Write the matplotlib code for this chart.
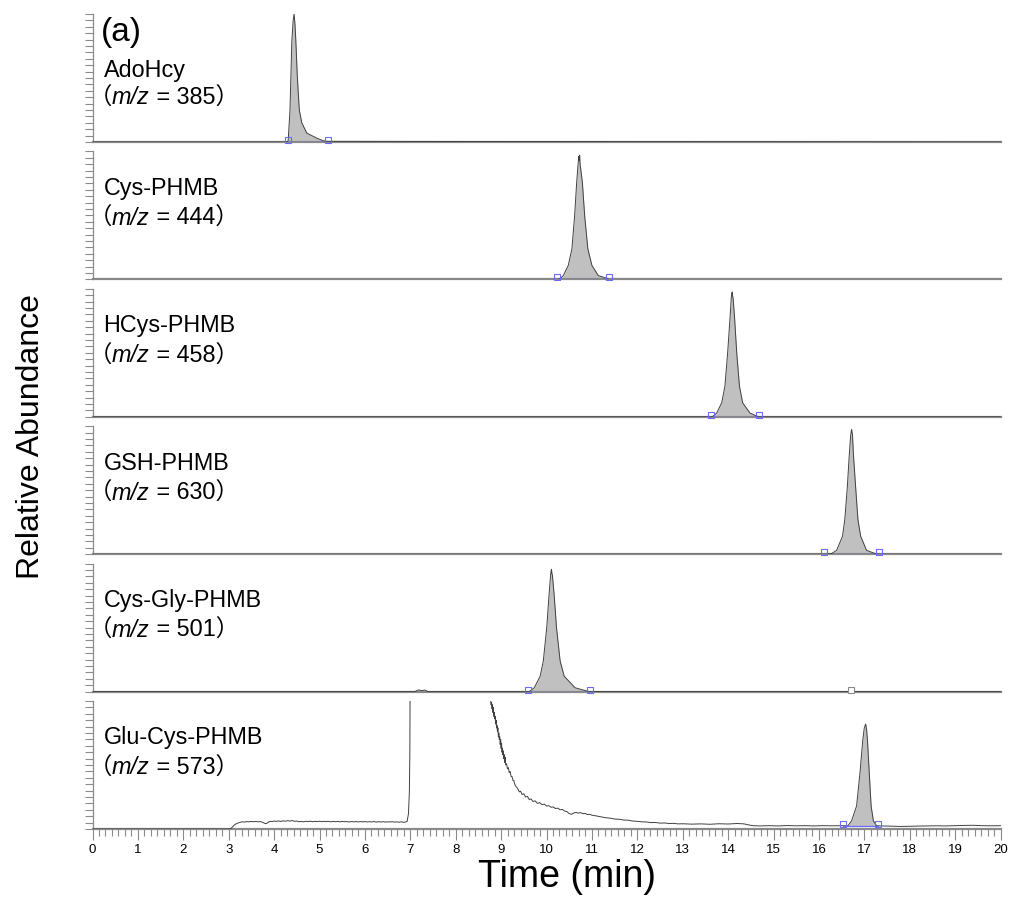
import matplotlib
matplotlib.use("Agg")
import matplotlib.pyplot as plt
from matplotlib.offsetbox import TextArea, HPacker, AnchoredOffsetbox
import numpy as np

# ---------------- data ----------------
names = ["AdoHcy", "Cys-PHMB", "HCys-PHMB", "GSH-PHMB", "Cys-Gly-PHMB", "Glu-Cys-PHMB"]
mz_values = ["385", "444", "458", "630", "501", "573"]

# panel 1 AdoHcy
t1 = [0, 4.28, 4.31, 4.35, 4.39, 4.42, 4.44, 4.46, 4.48, 4.51, 4.555, 4.61, 4.72, 4.94, 5.08, 5.17, 20]
y1 = [0, 0, 1, 25, 78, 95, 100, 92, 78, 52, 25, 15, 7, 3, 1, 0.5, 0]
# panel 2 Cys-PHMB
t2 = [0, 10.24, 10.30, 10.37, 10.48, 10.56, 10.62, 10.665, 10.70, 10.71, 10.72, 10.73, 10.74, 10.79, 10.84, 10.91, 11.00, 11.14, 11.355, 11.38, 20]
y2 = [0, 0, 0.5, 3, 11, 24, 50, 76, 92, 96, 93, 97, 90, 76, 50, 24, 11, 3, 0.5, 0, 0]
# panel 3 HCys-PHMB
t3 = [0, 13.62, 13.67, 13.75, 13.86, 13.93, 13.99, 14.04, 14.07, 14.08, 14.09, 14.10, 14.11, 14.145, 14.19, 14.25, 14.32, 14.48, 14.63, 14.69, 20]
y3 = [0, 0, 0.5, 3, 11, 24, 50, 76, 93, 96, 97.5, 94, 93, 76, 50, 24, 11, 3, 0.5, 0, 0]
# panel 4 GSH-PHMB
t4 = [0, 16.11, 16.28, 16.39, 16.52, 16.57, 16.625, 16.67, 16.70, 16.72, 16.74, 16.76, 16.81, 16.86, 16.92, 17.05, 17.24, 17.32, 20]
y4 = [0, 0, 0.5, 3, 14, 27, 52, 78, 93, 97.5, 93, 78, 52, 27, 14, 3, 0.5, 0, 0]
# panel 5 Cys-Gly-PHMB
t5 = [0, 7.10, 7.18, 7.25, 7.32, 7.39, 9.60, 9.64, 9.73, 9.86, 9.93, 10.005, 10.055, 10.09, 10.10, 10.11, 10.12, 10.13, 10.17, 10.22, 10.30, 10.39, 10.63, 10.885, 10.96, 20]
y5 = [0, 0, 1.3, 0.8, 1.2, 0, 0, 0.5, 3, 12, 24, 50, 75, 91, 94, 95.5, 92, 91, 75, 50, 24, 12, 3, 0.5, 0, 0]
# panel 6 Glu-Cys-PHMB
t6 = [0, 3.02, 3.05, 3.08, 3.12, 3.16, 3.2, 3.25, 3.3, 3.35, 3.4, 3.45, 3.5, 3.55, 3.6, 3.65, 3.7, 3.75, 3.8, 3.84, 3.88, 3.92, 3.96,
      4.0, 4.05, 4.1, 4.15, 4.2, 4.25, 4.3, 4.35, 4.4, 4.45, 4.5, 4.55, 4.6, 4.65, 4.7, 4.75, 4.8, 4.85, 4.9, 4.95,
      5.0, 5.05, 5.1, 5.15, 5.2, 5.25, 5.3, 5.35, 5.4, 5.45, 5.5, 5.55, 5.6, 5.65, 5.7, 5.75, 5.8, 5.85, 5.9, 5.95,
      6.0, 6.05, 6.1, 6.15, 6.2, 6.25, 6.3, 6.35, 6.4, 6.45, 6.5, 6.55, 6.6, 6.65, 6.7, 6.75, 6.8, 6.85, 6.9, 6.93,
      6.96, 6.98, 6.99, 7.0, 8.76,
      8.77, 8.78, 8.79, 8.80, 8.81, 8.82, 8.83, 8.84, 8.85, 8.86, 8.87, 8.88, 8.89, 8.90, 8.91, 8.92, 8.93, 8.94,
      8.95, 8.96, 8.97, 8.98, 8.99, 9.00, 9.01, 9.02, 9.03, 9.04, 9.05, 9.06, 9.07, 9.08, 9.09, 9.10,
      9.12, 9.14, 9.16, 9.18, 9.20, 9.22, 9.24, 9.26, 9.28, 9.30, 9.33, 9.36, 9.40, 9.43, 9.46, 9.50, 9.54, 9.58,
      9.62, 9.66, 9.70, 9.75, 9.80, 9.85, 9.90, 9.95, 10.0, 10.05, 10.1, 10.15, 10.2, 10.25, 10.3, 10.35, 10.4,
      10.45, 10.5, 10.55, 10.6, 10.65, 10.7, 10.75, 10.8, 10.85, 10.9, 10.95, 11.0, 11.1, 11.2, 11.3, 11.4, 11.5,
      11.6, 11.7, 11.8, 11.9, 12.0, 12.1, 12.2, 12.3, 12.4, 12.5, 12.6, 12.7, 12.8, 12.9, 13.0, 13.2, 13.4, 13.6,
      13.8, 14.0, 14.2, 14.35, 14.45, 14.55, 14.7, 14.9, 15.1, 15.3, 15.5, 15.7, 15.9, 16.1, 16.3, 16.5,
      16.64, 16.72, 16.83, 16.905, 16.965, 17.0, 17.02, 17.03, 17.05, 17.07, 17.11, 17.15, 17.2, 17.27,
      17.4, 17.6, 17.8, 18.0, 18.2, 18.4, 18.6, 18.8, 19.0, 19.2, 19.4, 19.6, 19.8, 20.0]
y6 = [0, 0, 0.4, 1.5, 3.0, 4.0, 4.6, 5.2, 5.6, 5.4, 5.8, 5.6, 5.9, 5.7, 5.9, 5.6, 5.8, 5.2, 4.3, 4.4, 5.6, 6.0, 5.8,
      6.2, 6.0, 6.3, 5.9, 6.4, 6.1, 6.5, 6.2, 6.6, 6.0, 6.2, 5.7, 5.9, 5.6, 6.0, 5.8, 6.1, 5.7, 6.0, 5.8,
      6.1, 5.7, 6.0, 5.8, 6.0, 5.6, 5.9, 5.7, 5.9, 5.6, 5.9, 5.7, 5.8, 5.5, 5.8, 5.6, 5.8, 5.5, 5.8, 5.6,
      5.8, 5.5, 5.7, 5.5, 5.8, 5.4, 5.7, 5.5, 5.7, 5.4, 5.6, 5.5, 5.7, 5.4, 5.6, 5.3, 5.6, 5.2, 5.5, 6.0,
      12, 30, 60, 150, 150,
      100, 97, 99, 94, 97, 91, 95, 88, 91, 86, 88, 82, 85, 79, 81, 76, 79, 72,
      75, 70, 72, 66, 70, 63, 67, 60, 63, 58, 61, 55, 58, 52, 56, 50,
      51, 47, 48, 44, 45, 41, 41, 38, 38, 35, 33, 32, 29, 29.5, 27, 27.5, 25, 25.5,
      23, 23.5, 21.5, 22, 20, 20.6, 19, 19.5, 18, 18.2, 17, 17.2, 16, 16.3, 15, 15.3, 14,
      13.6, 12, 11.5, 12.5, 13, 12.4, 12.8, 12.0, 12.2, 11.3, 11.5, 10.8, 10.2, 9.5, 8.8, 8.5, 7.8,
      7.6, 7.0, 6.9, 6.2, 6.0, 5.6, 5.5, 5.0, 5.1, 4.6, 4.7, 4.3, 4.4, 4.0, 4.1, 3.8, 4.0, 3.7,
      4.1, 3.9, 4.3, 4.0, 3.2, 2.6, 2.4, 2.6, 2.4, 2.7, 2.5, 2.6, 2.4, 2.6, 2.5, 2.6,
      2.5, 6.4, 18, 44, 69, 79, 81, 82, 78, 69, 44, 18, 6.4, 2.5,
      2.4, 2.2, 2.0, 2.1, 2.3, 2.4, 2.5, 2.4, 2.6, 2.8, 2.9, 2.6, 2.5, 2.6]

traces_t = [t1, t2, t3, t4, t5, t6]
traces_y = [y1, y2, y3, y4, y5, y6]
# integration limits (left, right) and baseline level
int_left = [4.31, 10.24, 13.62, 16.11, 9.60, 16.54]
int_right = [5.18, 11.38, 14.69, 17.32, 10.96, 17.30]
int_base = [0, 0, 0, 0, 0, 2.5]

x_ticks = list(range(0, 21))

# ---------------- style ----------------
plt.rcParams['font.family'] = ['Liberation Sans', 'Noto Sans CJK SC', 'DejaVu Sans']
W, H = 1009, 912
fig = plt.figure(figsize=(W / 100, H / 100), dpi=100)

left_px, right_px = 92.5, 1000.5
panel_h = 128
gray = '#8a8a8a'
blue = '#6a6aff'

axes = []
for i in range(6):
    bottom_px = 143 + 137.4 * i
    ax = fig.add_axes([left_px / W, 1 - bottom_px / H, (right_px - left_px) / W, panel_h / H])
    axes.append(ax)
    ax.set_xlim(0, 20)
    ax.set_ylim(0, 100)
    for s in ('top', 'right'):
        ax.spines[s].set_visible(False)
    ax.spines['left'].set_color(gray)
    ax.spines['left'].set_linewidth(0.9)
    ax.spines['bottom'].set_color(gray)
    ax.spines['bottom'].set_linewidth(1.6)
    ax.set_yticks(np.arange(0, 101, 5))
    ax.set_yticklabels([])
    ax.tick_params(axis='y', direction='out', length=6, width=0.8, color=gray)

    t = np.array(traces_t[i], dtype=float)
    y = np.array(traces_y[i], dtype=float)
    L, R, b = int_left[i], int_right[i], int_base[i]
    m = (t >= L) & (t <= R)
    ax.fill_between(t[m], np.maximum(y[m], b), b, color='#c0c0c0', lw=0, zorder=2)
    ax.plot(t, y, color='#404040', lw=0.7, zorder=3)
    ax.plot([L, R], [b, b], color=blue, lw=0.9, zorder=4)
    ax.plot([L, R], [b + 1.5, b + 1.5], ls='none', marker='s', ms=5, mfc='none', mec=blue, mew=0.8, zorder=5, clip_on=False)

    if i < 5:
        ax.set_xticks([])
    else:
        ax.set_xticks(x_ticks)
        ax.set_xticklabels([str(v) for v in x_ticks], fontsize=9.5)
        ax.set_xticks(np.arange(0, 20.001, 1 / 7), minor=True)
        ax.tick_params(axis='x', which='major', direction='out', length=8, width=0.8, color=gray, pad=2)
        ax.tick_params(axis='x', which='minor', direction='out', length=5, width=0.8, color=gray)

# small gray marker in Cys-Gly panel
axes[4].plot([16.7], [1.0], ls='none', marker='s', ms=4, mfc='white', mec=gray, mew=0.8, zorder=5, clip_on=False)

# labels
name_fs = 16.8
fam = ['Liberation Sans', 'Noto Sans CJK SC']
for i, ax in enumerate(axes):
    if i == 0:
        name_y, mz_y = 1 - 55 / panel_h, 1 - 83 / panel_h
        ax.text(8 / 908, 1 - 18 / panel_h, "(a)", transform=ax.transAxes, fontsize=24, va='center', ha='left')
    else:
        name_y, mz_y = 1 - 36 / panel_h, 1 - 66 / panel_h
    ax.text(11 / 908, name_y, names[i], transform=ax.transAxes, fontsize=name_fs, va='center', ha='left')
    box = HPacker(children=[
        TextArea("（", textprops=dict(fontsize=name_fs, family=fam)),
        TextArea("m/z", textprops=dict(fontsize=name_fs, family=fam, style='italic')),
        TextArea(" = " + mz_values[i] + "）", textprops=dict(fontsize=name_fs, family=fam)),
    ], pad=0, sep=0, align='baseline')
    ab = AnchoredOffsetbox(loc='center left', child=box, pad=0, borderpad=0, frameon=False,
                           bbox_to_anchor=(-4 / 908, mz_y), bbox_transform=ax.transAxes)
    ax.add_artist(ab)

fig.text(31 / W, 1 - 437 / H, "Relative Abundance", rotation=90, fontsize=23, ha='center', va='center')
fig.text(567 / W, 1 - 877 / H, "Time (min)", fontsize=27, ha='center', va='center')

fig.savefig("out.png", dpi=100)
